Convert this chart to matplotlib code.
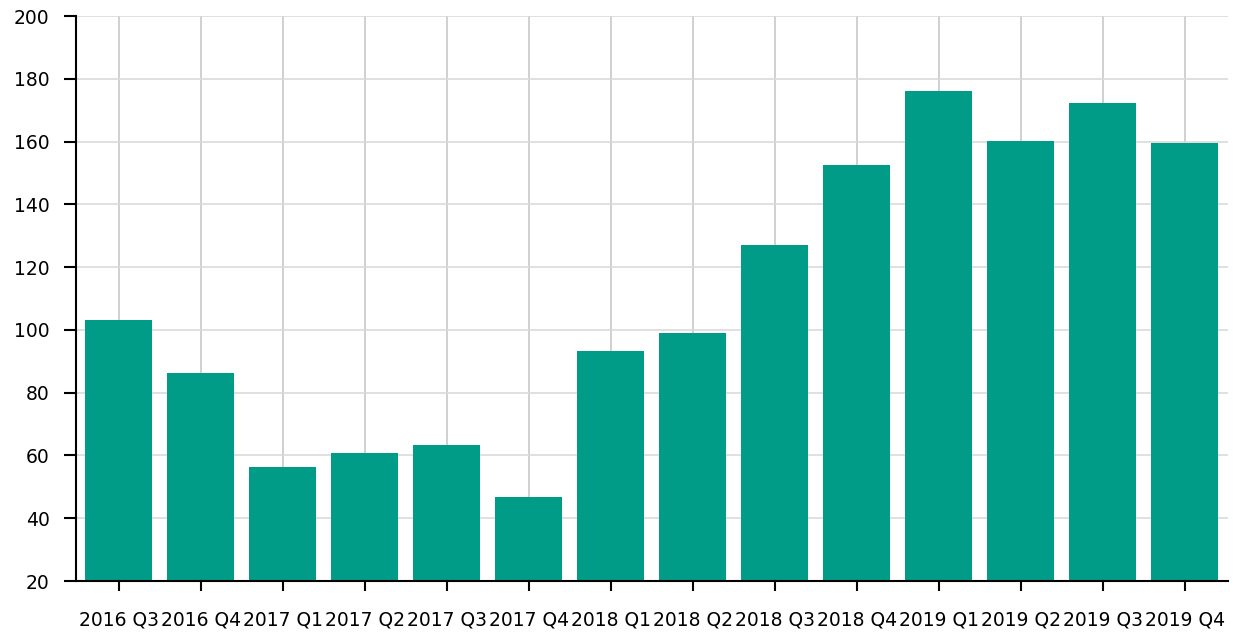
import matplotlib
matplotlib.use("Agg")
import matplotlib.pyplot as plt

# quarter labels and values
quarters = ["2016 Q3", "2016 Q4", "2017 Q1", "2017 Q2", "2017 Q3", "2017 Q4",
            "2018 Q1", "2018 Q2", "2018 Q3", "2018 Q4", "2019 Q1", "2019 Q2",
            "2019 Q3", "2019 Q4"]
values = [103, 86.3, 56.4, 60.9, 63.4, 46.9, 93.3, 99.1, 127.0, 152.5,
          176.0, 160.2, 172.2, 159.5]
y_ticks = [20, 40, 60, 80, 100, 120, 140, 160, 180, 200]

fig = plt.figure(figsize=(12.33, 6.33), dpi=100)
ax = fig.add_axes([0.0616, 0.0821, 0.9344, 0.8926])

base = 20
ax.bar(range(len(quarters)), [v - base for v in values], bottom=base,
       width=0.82, color="#009C88", zorder=2)

ax.set_xlim(-0.52, len(quarters) - 0.47)
ax.set_ylim(20, 200)
ax.set_yticks(y_ticks)
ax.set_xticks(range(len(quarters)))
ax.set_xticklabels(quarters)

# grid behind the bars
ax.grid(axis="y", color="#dadada", linewidth=1.2, zorder=0)
ax.grid(axis="x", color="#c8c8c8", linewidth=1.2, zorder=0)
ax.set_axisbelow(True)

for side in ["top", "right"]:
    ax.spines[side].set_visible(False)
for side in ["left", "bottom"]:
    ax.spines[side].set_linewidth(1.5)
    ax.spines[side].set_color("black")

ax.tick_params(axis="y", length=9, width=1.5, labelsize=13.5, pad=10)
ax.tick_params(axis="x", length=7.5, width=1.5, labelsize=13.5, pad=14)

plt.savefig("out.png")
